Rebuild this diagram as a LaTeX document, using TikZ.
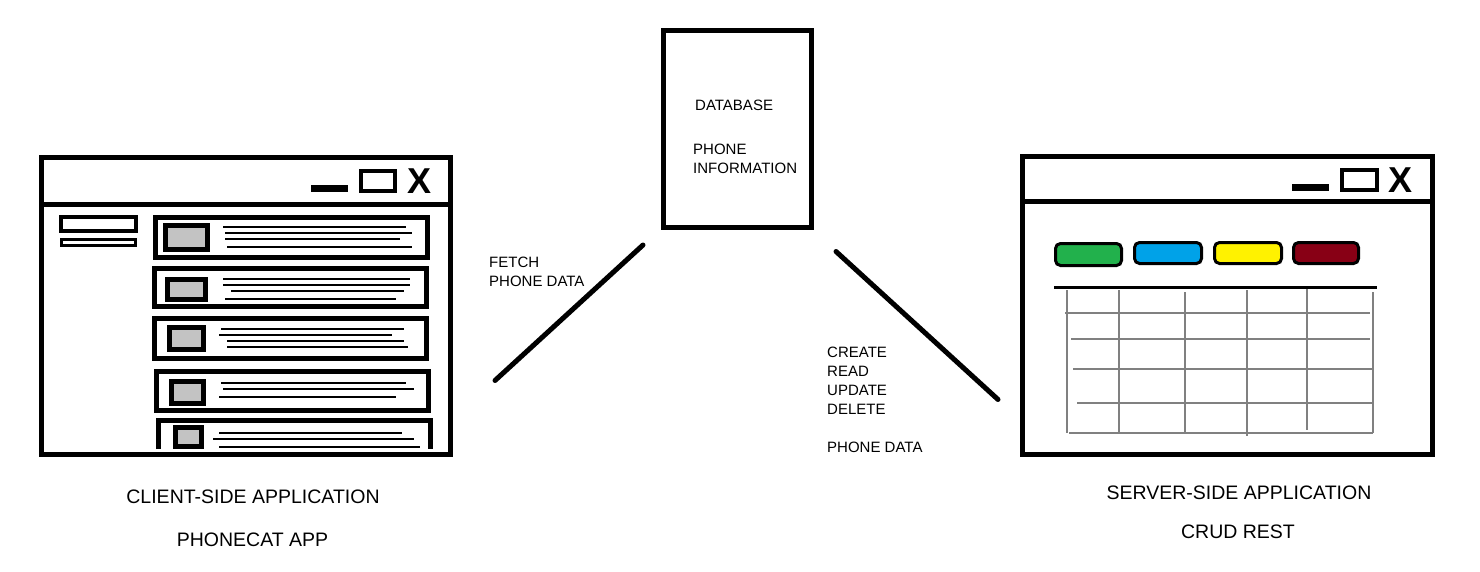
\documentclass[tikz,border=0pt]{standalone}
\usepackage{fontspec}
\setmainfont{Liberation Sans}
\definecolor{thumbgray}{HTML}{C3C3C3}
\definecolor{gridgray}{HTML}{808080}
\definecolor{btngreen}{HTML}{22B14C}
\definecolor{btnblue}{HTML}{00A2E8}
\definecolor{btnyellow}{HTML}{FFF200}
\definecolor{btnred}{HTML}{880015}
\tikzset{
  frame/.style={draw=black, line width=5pt},
  thumb/.style={draw=black, line width=5pt, fill=thumbgray},
  txtline/.style={draw=black, line width=1.4pt},
  gridline/.style={draw=gridgray, line width=1.5pt},
  btn/.style={draw=black, line width=3pt, rounded corners=5pt},
  smalltxt/.style={font=\fontsize{15}{19}\selectfont, anchor=base west, inner sep=0pt, text=black},
  bigtxt/.style={font=\fontsize{19.5}{24}\selectfont, anchor=base, inner sep=0pt, text=black},
  xmark/.style={font=\fontsize{36}{36}\selectfont\bfseries, inner sep=0pt, text=black},
  conn/.style={draw=black, line width=5pt, line cap=round},
}
\begin{document}
\begin{tikzpicture}[x=1pt,y=-1pt]
\useasboundingbox[fill=white] (0,0) rectangle (1480,572);

% ---------------- Left window (client) ----------------
\draw[frame] (41.5,157.5) rectangle (450.5,454.5);
\draw[frame] (41.5,204.5) -- (450.5,204.5);
\fill[black] (311,185) rectangle (348,192);
\draw[draw=black, line width=4pt] (361,171) rectangle (395,191);
\node[xmark] (lx) at (419.5,181) {X};
% sidebar
\draw[draw=black, line width=4pt] (61,217) rectangle (136,231);
\draw[draw=black, line width=3pt] (61.5,239.5) rectangle (135.5,245.5);
% item 1
\draw[frame] (155.5,217.5) rectangle (427.5,257.5);
\draw[thumb] (165.5,225.5) rectangle (207.5,249.5);
\draw[txtline] (223,227) -- (406,227);
\draw[txtline] (225,233) -- (412,233);
\draw[txtline] (225,239) -- (400,239);
\draw[txtline] (227,247) -- (412,247);
% item 2
\draw[frame] (154.5,268.5) rectangle (426.5,306.5);
\draw[thumb] (167.5,279.5) rectangle (205.5,299.5);
\draw[txtline] (223,279) -- (410,279);
\draw[txtline] (223,285) -- (410,285);
\draw[txtline] (231,291) -- (404,291);
\draw[txtline] (225,299) -- (396,299);
% item 3
\draw[frame] (154.5,318.5) rectangle (426.5,358.5);
\draw[thumb] (169.5,327.5) rectangle (203.5,349.5);
\draw[txtline] (221,329) -- (404,329);
\draw[txtline] (219,335) -- (392,335);
\draw[txtline] (227,341) -- (404,341);
\draw[txtline] (227,347) -- (408,347);
% item 4
\draw[frame] (156.5,371.5) rectangle (428.5,410.5);
\draw[thumb] (171.5,381.5) rectangle (203.5,403.5);
\draw[txtline] (221,383) -- (406,383);
\draw[txtline] (223,389) -- (414,389);
\draw[txtline] (219,397) -- (396,397);
% item 5 (cut off)
\draw[frame] (158.5,449) -- (158.5,420.5) -- (430.5,420.5) -- (430.5,449);
\draw[thumb] (175.5,427.5) rectangle (201.5,446.5);
\draw[txtline] (219,433) -- (402,433);
\draw[txtline] (213,439) -- (414,439);
\draw[txtline] (219,447) -- (420,447);

% ---------------- Right window (server) ----------------
\draw[frame] (1022.5,156.5) rectangle (1432.5,454.5);
\draw[frame] (1022.5,202) -- (1432.5,202);
\fill[black] (1292,184) rectangle (1329,191);
\draw[draw=black, line width=4pt] (1342,170) rectangle (1377,190);
\node[xmark] (rx) at (1400,180.5) {X};
% buttons
\draw[btn, fill=btngreen] (1055.5,243.5) rectangle (1121.5,265.5);
\draw[btn, fill=btnblue] (1134.5,242.5) rectangle (1201.5,263.5);
\draw[btn, fill=btnyellow] (1214.5,242.5) rectangle (1281.5,263.5);
\draw[btn, fill=btnred] (1293.5,242.5) rectangle (1358.5,263.5);
% table
\draw[gridline] (1067,290) -- (1067,433);
\draw[gridline] (1119,290) -- (1119,433);
\draw[gridline] (1185,292) -- (1185,432);
\draw[gridline] (1247,290) -- (1247,436);
\draw[gridline] (1307,287) -- (1307,430);
\draw[gridline] (1373,292) -- (1373,433);
\draw[gridline] (1065,313) -- (1370,313);
\draw[gridline] (1071,339) -- (1370,339);
\draw[gridline] (1073,369) -- (1372,369);
\draw[gridline] (1077,403) -- (1372,403);
\draw[gridline] (1069,433) -- (1373,433);
\draw[draw=black, line width=3pt] (1054,287) -- (1377,287);

% ---------------- Database ----------------
\node[frame, minimum width=148pt, minimum height=197pt, inner sep=0pt] (db) at (737.5,129) {};
\node[smalltxt] (dbt) at (695,110.5) {DATABASE};
\node[smalltxt] (dbp) at (693,155) {PHONE};
\node[smalltxt] (dbi) at (693,174) {INFORMATION};

% ---------------- Connectors ----------------
\coordinate (c1a) at (495,380.5);
\coordinate (c1b) at (643,245);
\coordinate (c2a) at (836,251.5);
\coordinate (c2b) at (998,399.5);
\draw[conn] (c1a) -- (c1b);
\draw[conn] (c2a) -- (c2b);

% ---------------- Labels ----------------
\node[smalltxt] (f1) at (489,267) {FETCH};
\node[smalltxt] (f2) at (489,286) {PHONE DATA};
\node[smalltxt] (r1) at (827,357) {CREATE};
\node[smalltxt] (r2) at (827,376) {READ};
\node[smalltxt] (r3) at (827,395) {UPDATE};
\node[smalltxt] (r4) at (827,414) {DELETE};
\node[smalltxt] (r5) at (827,452) {PHONE DATA};

\node[bigtxt] (cl1) at (253,503) {CLIENT-SIDE APPLICATION};
\node[bigtxt] (cl2) at (252.5,546) {PHONECAT APP};
\node[bigtxt] (sv1) at (1239,499) {SERVER-SIDE APPLICATION};
\node[bigtxt] (sv2) at (1238,538) {CRUD REST};
\end{tikzpicture}
\end{document}
